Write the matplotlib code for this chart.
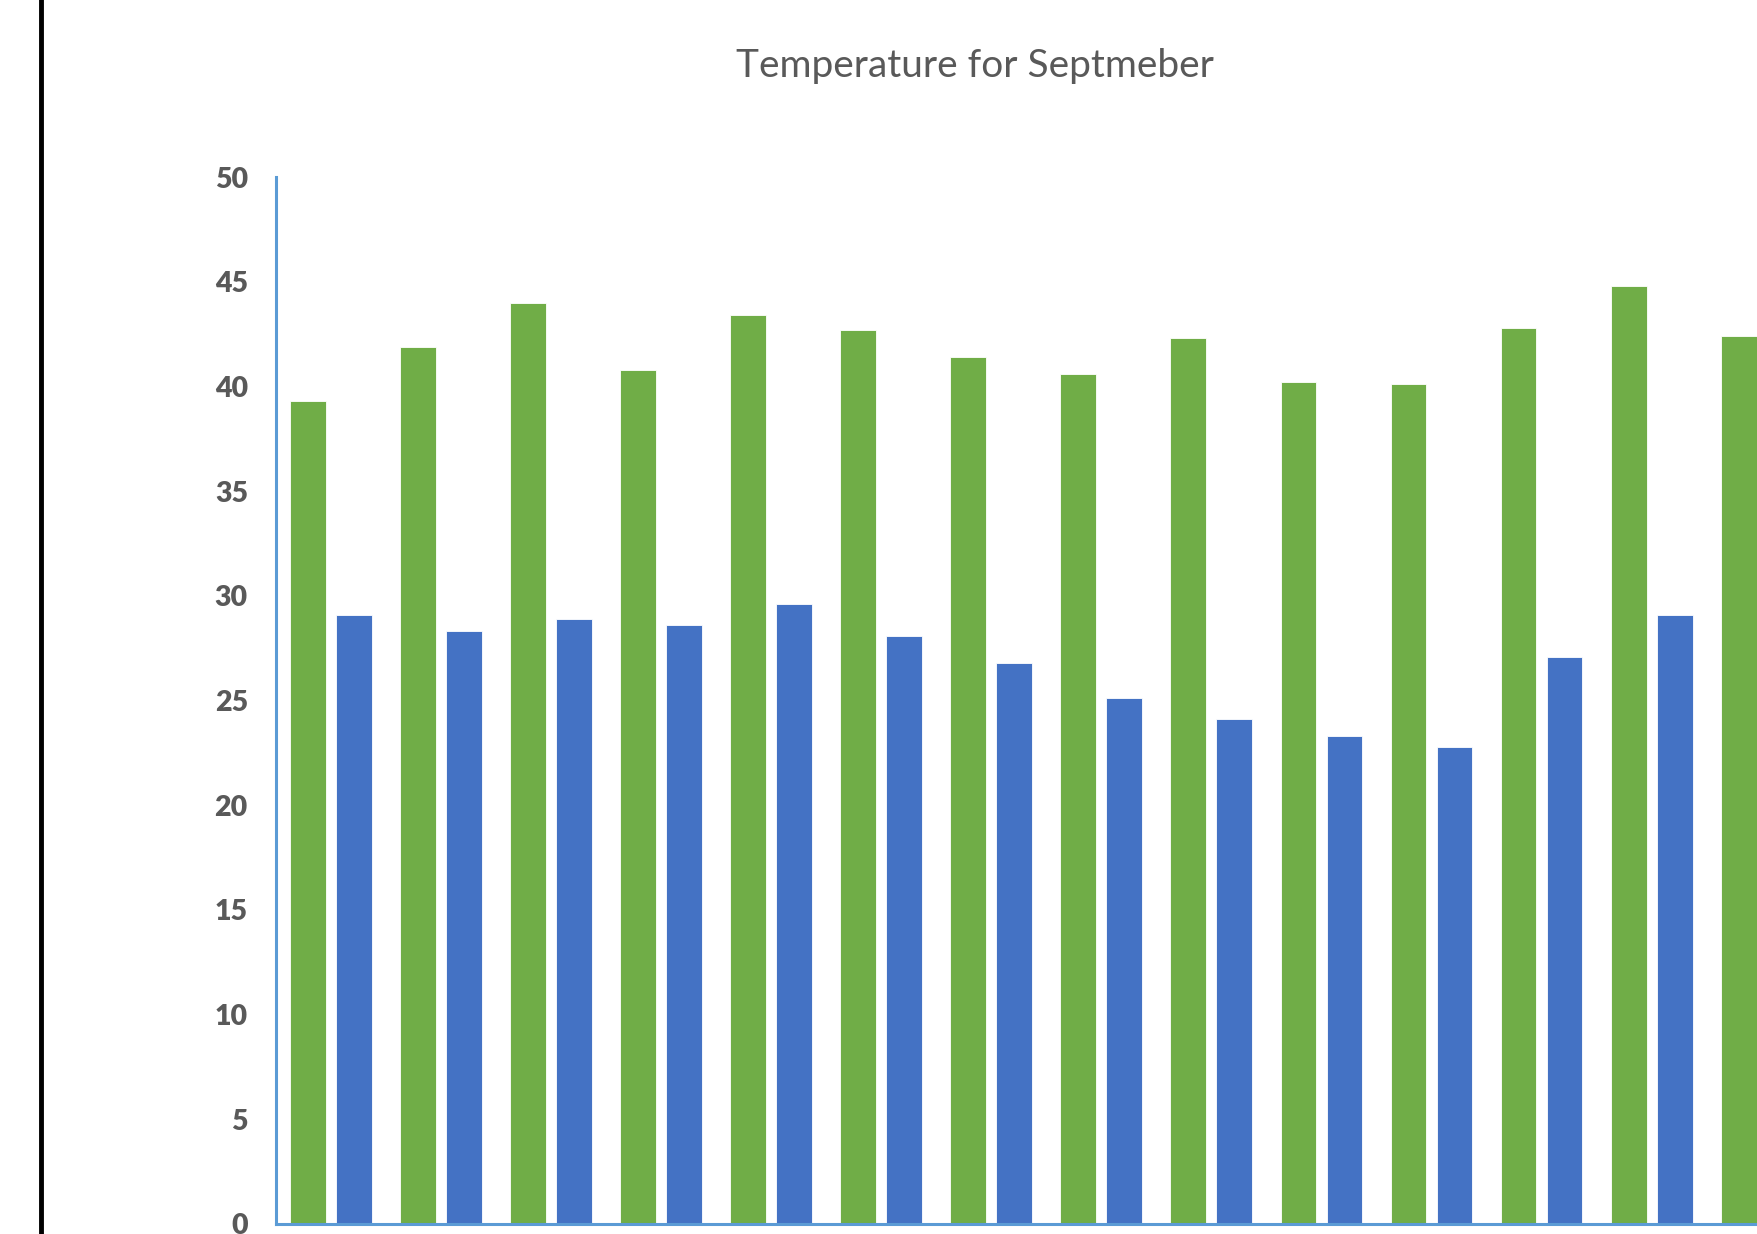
import matplotlib
matplotlib.use("Agg")
import matplotlib.pyplot as plt
import numpy as np
from matplotlib.lines import Line2D

title = "Temperature for Septmeber"
green_vals = [39.3, 41.9, 44.0, 40.8, 43.4, 42.7, 41.4, 40.6, 42.3, 40.2, 40.1, 42.8, 44.8, 42.4]
blue_vals = [29.1, 28.3, 28.9, 28.6, 29.6, 28.1, 26.8, 25.1, 24.1, 23.3, 22.8, 27.1, 29.1]
yticks = [0, 5, 10, 15, 20, 25, 30, 35, 40, 45, 50]

W, H = 1757, 1234
fig = plt.figure(figsize=(W / 100, H / 100), dpi=100)
ax = fig.add_axes([246 / 1568, 1 - 1092 / 1101, 1 - 246 / 1568, (1092 - 158) / 1101])

off = 0.209
bw = 0.326
gx = np.arange(len(green_vals)) - off
bx = np.arange(len(blue_vals)) + off
ax.bar(gx, green_vals, width=bw, color="#70AD47", edgecolor="white", linewidth=0.6, clip_on=True)
ax.bar(bx, blue_vals, width=bw, color="#4472C4", edgecolor="white", linewidth=0.6, clip_on=True)

ax.set_xlim(-0.504, 12.958)
ax.set_ylim(0, 50)
ax.set_yticks(yticks)
ax.set_yticklabels([str(t) for t in yticks], fontfamily="Lato", fontweight="heavy",
                   fontsize=20.5, color="#595959")
ax.tick_params(axis="y", length=0, pad=20)
ax.set_xticks([])
for s in ["top", "right"]:
    ax.spines[s].set_visible(False)
for s in ["left", "bottom"]:
    ax.spines[s].set_color("#5B9BD5")
    ax.spines[s].set_linewidth(2.2)

fig.text(870 / 1568, 1 - 59 / 1101, title, ha="center", va="center",
         fontfamily="Lato", fontweight="normal", fontsize=28, color="#595959")

fig.add_artist(Line2D([37 / 1568, 37 / 1568], [0, 1], transform=fig.transFigure,
                      color="black", linewidth=3.5))

fig.savefig("out.png", dpi=100)
